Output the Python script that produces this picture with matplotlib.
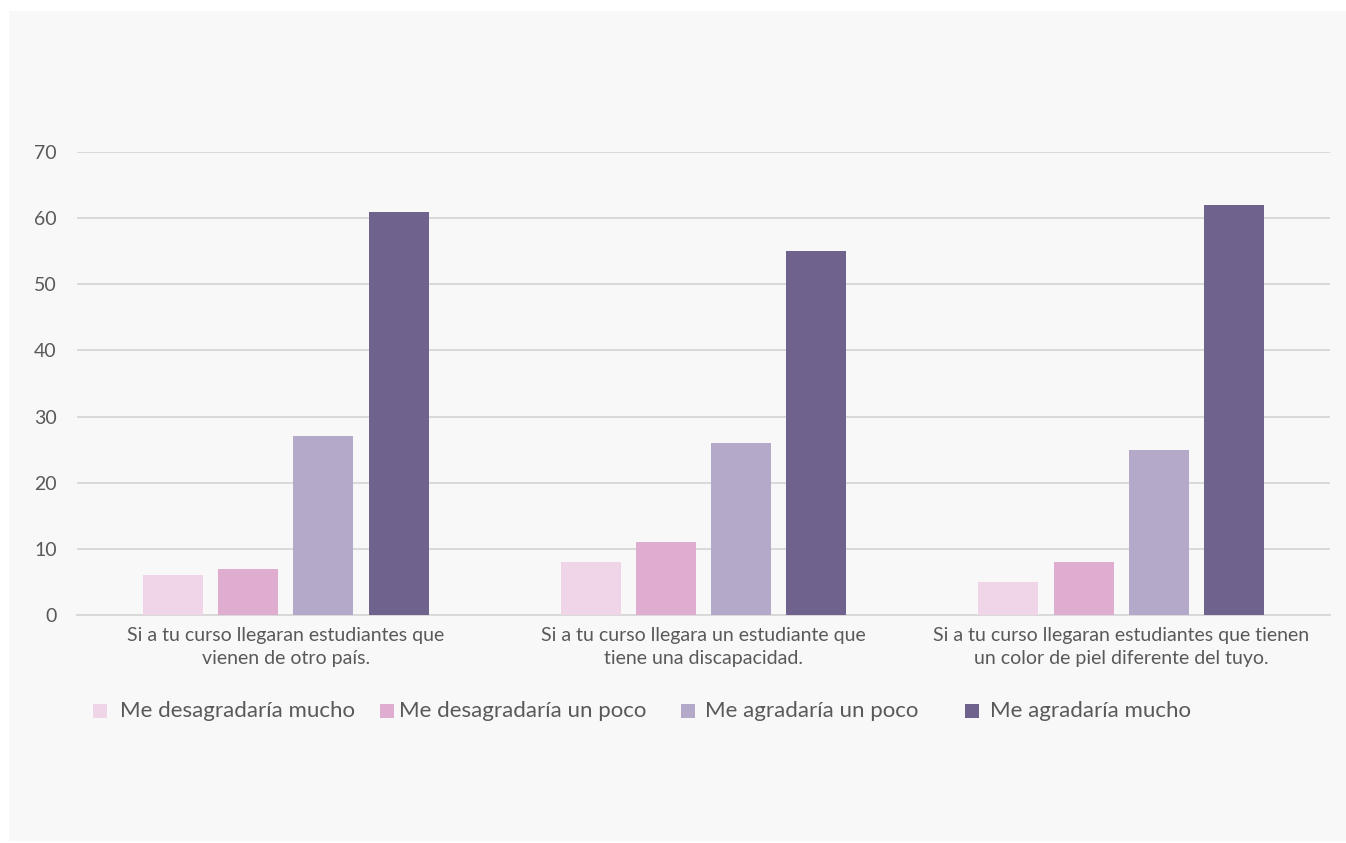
import matplotlib.pyplot as plt
import numpy as np
from matplotlib.patches import Rectangle

plt.rcParams['font.family'] = ['Lato', 'DejaVu Sans']

categories = [
    "Si a tu curso llegaran estudiantes que\nvienen de otro país.",
    "Si a tu curso llegara un estudiante que\ntiene una discapacidad.",
    "Si a tu curso llegaran estudiantes que tienen\nun color de piel diferente del tuyo.",
]
series_names = [
    "Me desagradaría mucho",
    "Me desagradaría un poco",
    "Me agradaría un poco",
    "Me agradaría mucho",
]
desagrada_mucho = [6, 8, 5]
desagrada_poco = [7, 11, 8]
agrada_poco = [27, 26, 25]
agrada_mucho = [61, 55, 62]
series_values = [desagrada_mucho, desagrada_poco, agrada_poco, agrada_mucho]
colors = ["#f0d4e8", "#deadcf", "#b5a9c9", "#6f628c"]
yticks = [0, 10, 20, 30, 40, 50, 60, 70]

W, H = 1346, 843
fig = plt.figure(figsize=(W / 100, H / 100), dpi=100)
fig.patch.set_facecolor("white")
# chart area panel
fig.patches.append(Rectangle((9 / W, 2 / H), (W - 9) / W, (H - 13) / H,
                             transform=fig.transFigure, facecolor="#f8f8f8",
                             edgecolor="none", zorder=-10))

ax = fig.add_axes([77 / W, (H - 615) / H, (1330 - 77) / W, (615 - 152) / H])
ax.set_zorder(1)
ax.set_facecolor("none")

x = np.arange(len(categories))
step = 0.18
width = 0.144
for i, (vals, c) in enumerate(zip(series_values, colors)):
    ax.bar(x + (i - 1.5) * step, vals, width=width, color=c, zorder=3)

ax.set_xlim(-0.5, len(categories) - 0.5)
ax.set_ylim(0, 70)
ax.set_yticks(yticks)
ax.yaxis.grid(True, color="#d9d9d9", linewidth=1.4, zorder=0)
ax.set_axisbelow(True)
for s in ["top", "right", "left"]:
    ax.spines[s].set_visible(False)
ax.spines["bottom"].set_color("#d9d9d9")
ax.spines["bottom"].set_linewidth(1.4)
ax.tick_params(axis="y", length=0, pad=14.5, labelsize=14, labelcolor="#595959")
ax.tick_params(axis="x", length=0, pad=9, labelsize=14, labelcolor="#595959")
ax.set_xticks(x)
ax.set_xticklabels(categories, linespacing=1.38)

# legend entries
legend_sq = [93, 380, 681, 965]
legend_tx = [120, 399, 705, 990]
ly = 711
for sq, tx, name, c in zip(legend_sq, legend_tx, series_names, colors):
    fig.patches.append(Rectangle((sq / W, (H - ly - 7) / H), 14 / W, 14 / H,
                                 transform=fig.transFigure, facecolor=c,
                                 edgecolor="none", zorder=2))
    fig.text(tx / W, (H - ly) / H, name, fontsize=16, color="#595959",
             va="center", ha="left")

fig.savefig("out.png", dpi=100)
